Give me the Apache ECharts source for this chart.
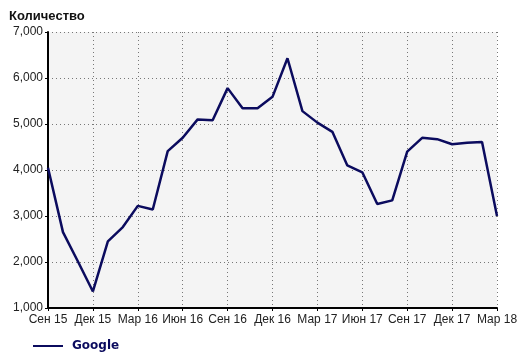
<!DOCTYPE html>
<html><head><meta charset="utf-8">
<script src="https://cdn.jsdelivr.net/npm/echarts@6/dist/echarts.min.js"></script>
<style>html,body{margin:0;padding:0;background:#fff}#c{width:526px;height:355px}</style>
</head><body><div id="c"></div>
<script>
const categories = ['Сен 15','Окт 15','Ноя 15','Дек 15','Янв 16','Фев 16','Мар 16','Апр 16','Май 16','Июн 16','Июл 16','Авг 16','Сен 16','Окт 16','Ноя 16','Дек 16','Янв 17','Фев 17','Мар 17','Апр 17','Май 17','Июн 17','Июл 17','Авг 17','Сен 17','Окт 17','Ноя 17','Дек 17','Янв 18','Фев 18','Мар 18'];
const googleValues = [4050,2650,2010,1360,2450,2760,3220,3140,4410,4700,5100,5080,5780,5340,5340,5590,6430,5280,5030,4830,4100,3950,3260,3340,4400,4700,4670,4560,4590,4610,3000];
const yTicks = [1000,7000,1000]; // min, max, interval

const chart = echarts.init(document.getElementById('c'));
const font = 'Arial, "Liberation Sans", sans-serif';
const grid = {type:[1,3],color:'#777',width:1};
chart.setOption({
  animation:false,
  title:{text:'Количество',left:4,top:5,textStyle:{fontFamily:font,fontSize:13,fontWeight:'bold',color:'#111'}},
  legend:{left:28,top:335,icon:'path://M0,0 L30,0 L30,2 L0,2 Z',itemWidth:30,itemHeight:2,itemGap:10,
    textStyle:{fontFamily:'Verdana, "DejaVu Sans", sans-serif',fontSize:12,fontWeight:'bold',color:'#0b0b5e',padding:[0,0,0,4]}},
  grid:{left:48,right:29,top:32,bottom:47,show:true,backgroundColor:'#f4f4f4',borderWidth:0},
  xAxis:{type:'category',data:categories,boundaryGap:false,
    axisLine:{lineStyle:{color:'#000',width:2}},
    axisTick:{interval:2,length:3,lineStyle:{color:'#000'}},
    axisLabel:{interval:2,fontFamily:font,fontSize:12,color:'#222',margin:6},
    splitLine:{show:true,interval:2,lineStyle:grid}},
  yAxis:{type:'value',min:yTicks[0],max:yTicks[1],interval:yTicks[2],
    axisLine:{show:true,lineStyle:{color:'#000',width:2}},
    axisTick:{show:true,length:3,lineStyle:{color:'#000'}},
    axisLabel:{fontFamily:font,fontSize:12,color:'#222',margin:5,formatter:v=>v.toLocaleString('en-US')},
    splitLine:{show:true,lineStyle:grid}},
  series:[{name:'Google',type:'line',data:googleValues,symbol:'none',lineStyle:{color:'#0b0b5e',width:2.5},itemStyle:{color:'#0b0b5e'}}]
});
</script></body></html>
